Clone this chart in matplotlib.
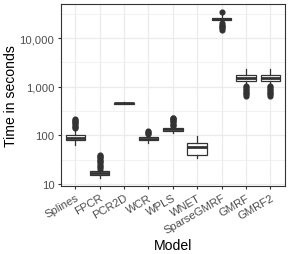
import matplotlib.pyplot as plt
import matplotlib.ticker as mticker
import numpy as np

plt.rcParams['font.family'] = ['Liberation Sans', 'DejaVu Sans']

models = ['Splines', 'FPCR', 'PCR2D', 'WCR', 'WPLS', 'WNET', 'SparseGMRF', 'GMRF', 'GMRF2']

# box statistics (seconds)
whislo = [65, 13.3, 440, 70, 114, 34, 21000, 1130, 1130]
q1 = [80, 15.5, 452, 80, 122, 40, 23400, 1320, 1320]
med = [90, 17, 460, 86, 133, 58, 24800, 1540, 1540]
q3 = [103, 18.5, 470, 91, 145, 71, 26300, 1750, 1750]
whishi = [122, 20, 480, 102, 150, 97, 31000, 2300, 2300]
fliers = [
    [141, 150, 160, 170, 180, 190, 200, 210, 216],
    [20.5, 22, 24, 26, 28, 30, 32, 34, 36, 38, 40],
    [],
    [105, 110, 116, 122],
    [157, 165, 175, 185, 195, 205, 215, 225, 234],
    [],
    [35200, 20000, 19000, 18000, 17000, 16000, 15000],
    [1050, 980, 920, 860, 800, 750, 700, 650],
    [1050, 980, 920, 860, 800, 750, 700, 650],
]

stats = []
for i, name in enumerate(models):
    stats.append(dict(label=name, whislo=whislo[i], q1=q1[i], med=med[i],
                      q3=q3[i], whishi=whishi[i], fliers=fliers[i]))

fig = plt.figure(figsize=(2.91, 2.55), dpi=100)
ax = fig.add_axes([0.2086, 0.267, 0.7704, 0.713])

dark = '#333333'
ax.bxp(stats, positions=np.arange(1, len(models) + 1), widths=0.8,
       patch_artist=True, showcaps=False,
       boxprops=dict(facecolor='white', edgecolor=dark, linewidth=0.9),
       medianprops=dict(color=dark, linewidth=2.0, solid_capstyle='butt'),
       whiskerprops=dict(color=dark, linewidth=0.9),
       flierprops=dict(marker='o', markersize=3.4, markerfacecolor=dark,
                       markeredgecolor=dark, linestyle='none'))

ax.set_yscale('log')
ax.set_ylim(9.2, 50000)
ax.set_xlim(0.4, len(models) + 0.6)

ax.yaxis.set_major_locator(mticker.FixedLocator([10, 100, 1000, 10000]))
ax.yaxis.set_major_formatter(mticker.FuncFormatter(lambda v, p: f"{v:,.0f}"))
ax.yaxis.set_minor_locator(mticker.FixedLocator([10 ** 1.5, 10 ** 2.5, 10 ** 3.5, 10 ** 4.5]))
ax.yaxis.set_minor_formatter(mticker.NullFormatter())

ax.set_xticks(np.arange(1, len(models) + 1))
ax.set_xticklabels(models, rotation=30, ha='right', rotation_mode='anchor')

ax.grid(which='major', color='#EBEBEB', lw=0.9)
ax.grid(which='minor', axis='y', color='#EBEBEB', lw=0.5)
ax.set_axisbelow(True)

ax.tick_params(axis='both', which='major', labelsize=8.1, labelcolor='#4D4D4D',
               color=dark, length=2.5, width=0.8, pad=2)
ax.tick_params(axis='y', which='minor', length=0)
for spine in ax.spines.values():
    spine.set_color(dark)
    spine.set_linewidth(0.8)

ax.set_xlabel('Model', fontsize=10.1, labelpad=2)
ax.set_ylabel('Time in seconds', fontsize=10.1, labelpad=1)

plt.savefig('out.png', dpi=100)
